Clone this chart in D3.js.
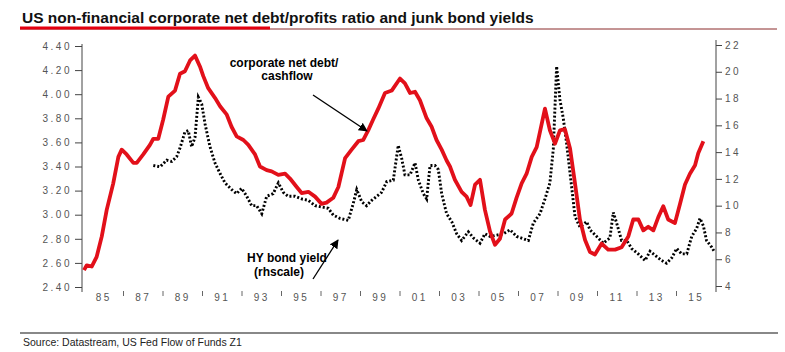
<!DOCTYPE html>
<html>
<head>
<meta charset="utf-8">
<script src="https://cdn.jsdelivr.net/npm/d3@7"></script>
<style>
  body { margin: 0; background: #fff; }
  svg { display: block; font-family: "Liberation Sans", Arial, sans-serif; }
</style>
</head>
<body>
<div id="chart"></div>
<script>
// chart size
var width = 785;
var height = 352;

// corporate net debt / cashflow (lhs), decimal years
var debtDates = [1985.0,1985.14,1985.39,1985.64,1985.9,1986.15,1986.48,1986.74,1986.91,1987.16,
  1987.5,1987.67,1988.0,1988.34,1988.51,1988.76,1989.01,1989.27,1989.61,1989.86,
  1990.11,1990.37,1990.62,1990.87,1991.04,1991.29,1991.63,1991.89,1992.23,1992.47,
  1992.73,1993.07,1993.32,1993.66,1993.91,1994.25,1994.5,1994.84,1995.18,1995.43,
  1995.77,1996.02,1996.36,1996.7,1997.03,1997.28,1997.62,1997.88,1998.22,1998.55,
  1998.89,1999.14,1999.39,1999.64,1999.9,2000.24,2000.58,2001.0,2001.25,2001.51,
  2001.76,2002.01,2002.35,2002.6,2002.85,2003.11,2003.36,2003.53,2003.78,2004.12,
  2004.37,2004.57,2004.8,2005.05,2005.3,2005.56,2005.81,2006.06,2006.32,2006.65,
  2006.9,2007.16,2007.41,2007.67,2007.92,2008.09,2008.34,2008.59,2008.85,2009.1,
  2009.35,2009.61,2009.86,2010.11,2010.37,2010.62,2010.87,2011.21,2011.54,2011.89,
  2012.22,2012.56,2012.81,2013.07,2013.32,2013.57,2013.83,2014.08,2014.33,2014.58,
  2014.92,2015.18,2015.43,2015.68,2015.94,2016.1,2016.36];
var debtRatio = [2.54,2.58,2.57,2.65,2.82,3.04,3.26,3.48,3.54,3.5,
  3.43,3.43,3.5,3.58,3.63,3.63,3.79,3.98,4.03,4.17,
  4.19,4.28,4.32,4.23,4.15,4.05,3.97,3.9,3.83,3.73,
  3.65,3.62,3.58,3.5,3.4,3.37,3.36,3.33,3.34,3.3,
  3.23,3.18,3.19,3.15,3.09,3.1,3.14,3.23,3.47,3.54,
  3.61,3.62,3.7,3.79,3.88,4.01,4.03,4.13,4.09,4.01,
  4.02,3.95,3.8,3.73,3.62,3.54,3.45,3.4,3.29,3.19,
  3.15,3.08,3.25,3.29,3.04,2.86,2.75,2.8,2.96,3.01,
  3.14,3.26,3.34,3.48,3.56,3.69,3.88,3.7,3.59,3.7,
  3.71,3.55,3.26,2.96,2.79,2.69,2.67,2.76,2.71,2.71,
  2.73,2.82,2.96,2.96,2.87,2.9,2.87,2.98,3.07,2.96,
  2.93,3.09,3.25,3.34,3.41,3.51,3.61];

// HY bond yield (rhs)
var hyDates = [1988.51,1988.85,1989.19,1989.44,1989.69,1989.86,1990.11,1990.28,1990.45,1990.62,
  1990.79,1990.96,1991.13,1991.29,1991.38,1991.63,1991.89,1992.14,1992.48,1992.73,
  1992.98,1993.24,1993.49,1993.74,1994.0,1994.25,1994.58,1994.84,1995.09,1995.34,
  1995.68,1996.02,1996.36,1996.7,1997.04,1997.37,1997.62,1997.96,1998.38,1998.64,
  1998.81,1999.06,1999.31,1999.57,1999.82,2000.07,2000.33,2000.66,2000.91,2001.09,
  2001.25,2001.51,2001.76,2001.93,2002.18,2002.35,2002.52,2002.77,2002.94,2003.11,
  2003.36,2003.62,2003.87,2004.12,2004.46,2004.71,2005.05,2005.3,2005.56,2005.9,
  2006.23,2006.57,2006.91,2007.5,2007.75,2008.09,2008.34,2008.59,2008.76,2008.93,
  2009.1,2009.27,2009.44,2009.69,2009.86,2010.11,2010.45,2010.62,2010.96,2011.29,
  2011.63,2011.8,2011.97,2012.22,2012.48,2012.73,2013.06,2013.41,2013.66,2014.0,
  2014.25,2014.5,2014.76,2015.01,2015.26,2015.52,2015.77,2016.02,2016.19,2016.36,
  2016.52,2016.78,2016.9];
var hyYield = [13.0,12.9,13.4,13.3,13.65,14.3,15.5,15.6,14.4,15.1,
  18.1,17.6,16.1,15.0,14.4,13.2,12.4,11.7,11.2,10.9,
  11.3,10.7,10.0,10.0,9.4,10.7,10.9,11.7,11.0,10.7,
  10.7,10.5,10.4,10.0,9.9,9.8,9.3,9.05,8.9,10.2,
  11.2,10.3,10.0,10.4,10.7,11.0,11.8,11.9,14.5,13.5,
  12.3,12.3,13.2,11.9,10.9,10.5,13.0,13.0,12.7,10.9,
  9.4,8.8,7.9,7.4,8.05,7.6,7.2,7.9,7.7,7.8,
  7.9,8.2,7.7,7.4,8.7,9.4,10.5,11.7,14.2,20.4,
  17.9,16.5,14.6,11.4,9.2,8.4,8.8,8.2,7.7,7.2,
  7.6,9.5,8.7,7.4,7.4,6.8,6.4,5.9,6.6,6.2,
  5.9,5.7,6.1,6.8,6.4,6.4,7.7,8.3,9.05,8.5,
  7.4,6.9,6.6];

// axis ticks
var leftTicks = [2.4,2.6,2.8,3.0,3.2,3.4,3.6,3.8,4.0,4.2,4.4];
var rightTicks = [4,6,8,10,12,14,16,18,20,22];
var yearTicks = d3.range(1985, 2018, 2);

var svg = d3.select("#chart").append("svg")
  .attr("width", width)
  .attr("height", height);

// scales
var x = d3.scaleLinear().domain([1985, 2017]).range([84, 716]);
var yL = d3.scaleLinear().domain([2.4, 4.4]).range([287, 46]);
var yR = d3.scaleLinear().domain([4, 22]).range([286, 45]);

// title + rules
svg.append("text")
  .attr("x", 22).attr("y", 23)
  .attr("font-size", 15.5).attr("font-weight", "bold").attr("fill", "#111")
  .text("US non-financial corporate net debt/profits ratio and junk bond yields");
svg.append("line").attr("x1", 20).attr("x2", 777).attr("y1", 29).attr("y2", 29)
  .attr("stroke", "#8a2a2a").attr("stroke-width", 1);
svg.append("line").attr("x1", 20).attr("x2", 270).attr("y1", 28).attr("y2", 28)
  .attr("stroke", "#e3000f").attr("stroke-width", 3);

// left axis
var gL = svg.append("g").attr("transform", "translate(82,0)");
gL.call(d3.axisLeft(yL).tickValues(d3.range(2.4, 4.41, 0.04)).tickSize(4).tickFormat(""));
gL.call(d3.axisLeft(yL).tickValues(leftTicks).tickSize(7).tickSizeOuter(0).tickFormat(d3.format(".2f")));
gL.selectAll(".domain").remove();
gL.append("line").attr("y1", 44).attr("y2", 292).attr("stroke", "#444");
gL.selectAll("line").attr("stroke", "#444");
gL.selectAll("text")
  .attr("x", -10)
  .attr("font-size", 10).attr("letter-spacing", 2.5)
  .attr("font-family", "Liberation Sans, Arial, sans-serif")
  .attr("fill", "#555");

// right axis
var gR = svg.append("g").attr("transform", "translate(716,0)");
gR.call(d3.axisRight(yR).tickValues(d3.range(4, 22.1, 1)).tickSize(4).tickFormat(""));
gR.call(d3.axisRight(yR).tickValues(rightTicks).tickSize(6).tickSizeOuter(0));
gR.selectAll(".domain").remove();
gR.append("line").attr("y1", 40).attr("y2", 292).attr("stroke", "#444");
gR.selectAll("line").attr("stroke", "#444");
gR.selectAll("text")
  .attr("x", 9)
  .attr("font-size", 10).attr("letter-spacing", 2.5)
  .attr("font-family", "Liberation Sans, Arial, sans-serif")
  .attr("fill", "#555");

// bottom year ticks and labels (label sits in the middle of its 2-year band)
svg.selectAll(".xtick")
  .data(yearTicks.slice(1, -1))
  .enter().append("line")
  .attr("class", "xtick")
  .attr("x1", function(d) { return x(d); })
  .attr("x2", function(d) { return x(d); })
  .attr("y1", 291).attr("y2", 296)
  .attr("stroke", "#666");
svg.selectAll(".xlab")
  .data(yearTicks.slice(0, -1))
  .enter().append("text")
  .attr("class", "xlab")
  .attr("x", function(d) { return x(d + 1); })
  .attr("y", 301)
  .attr("text-anchor", "middle")
  .attr("font-size", 10).attr("letter-spacing", 2.5)
  .attr("fill", "#555")
  .text(function(d) { return d3.format("02")(d % 100); });

// HY bond yield, dotted
var hyLine = d3.line()
  .x(function(d) { return x(d[0]); })
  .y(function(d) { return yR(d[1]); });
svg.append("path")
  .datum(d3.zip(hyDates, hyYield))
  .attr("d", hyLine)
  .attr("fill", "none")
  .attr("stroke", "#000")
  .attr("stroke-width", 2.9)
  .attr("stroke-dasharray", "2,2");

// corporate net debt/cashflow, red
var debtLine = d3.line()
  .x(function(d) { return x(d[0]); })
  .y(function(d) { return yL(d[1]); });
svg.append("path")
  .datum(d3.zip(debtDates, debtRatio))
  .attr("d", debtLine)
  .attr("fill", "none")
  .attr("stroke", "#e2101a")
  .attr("stroke-width", 3.8)
  .attr("stroke-linejoin", "round");

// annotations
var defs = svg.append("defs");
defs.append("marker")
  .attr("id", "arrow")
  .attr("viewBox", "0 0 10 10")
  .attr("refX", 9).attr("refY", 5)
  .attr("markerWidth", 9).attr("markerHeight", 9)
  .attr("markerUnits", "userSpaceOnUse")
  .attr("orient", "auto")
  .append("path").attr("d", "M0,0L10,5L0,10z").attr("fill", "#000");

svg.append("text").attr("x", 284).attr("y", 67).attr("text-anchor", "middle")
  .attr("font-size", 12).attr("font-weight", "bold").text("corporate net debt/");
svg.append("text").attr("x", 287).attr("y", 80).attr("text-anchor", "middle")
  .attr("font-size", 12).attr("font-weight", "bold").text("cashflow");
svg.append("line").attr("x1", 313).attr("y1", 95).attr("x2", 367).attr("y2", 131)
  .attr("stroke", "#000").attr("stroke-width", 1.3).attr("marker-end", "url(#arrow)");

svg.append("text").attr("x", 287).attr("y", 262).attr("text-anchor", "middle")
  .attr("font-size", 12).attr("font-weight", "bold").text("HY bond yield");
svg.append("text").attr("x", 279).attr("y", 276).attr("text-anchor", "middle")
  .attr("font-size", 12).attr("font-weight", "bold").text("(rhscale)");
svg.append("line").attr("x1", 313).attr("y1", 279).attr("x2", 338).attr("y2", 240)
  .attr("stroke", "#000").attr("stroke-width", 1.3).attr("marker-end", "url(#arrow)");

// footer
svg.append("line").attr("x1", 20).attr("x2", 778).attr("y1", 333).attr("y2", 333)
  .attr("stroke", "#888").attr("stroke-width", 2);
svg.append("text").attr("x", 23).attr("y", 346)
  .attr("font-size", 10.5).attr("fill", "#222")
  .text("Source: Datastream, US Fed Flow of Funds Z1");
</script>
</body>
</html>
